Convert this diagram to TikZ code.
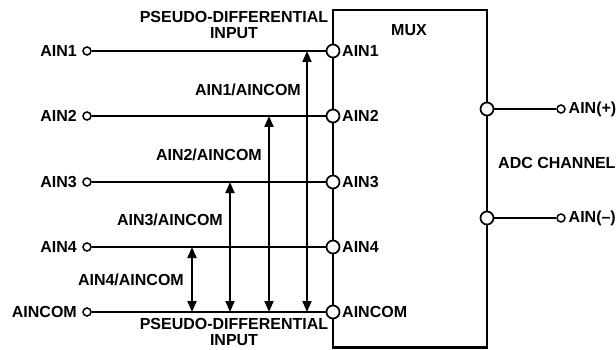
\documentclass[tikz,border=0pt]{standalone}
\usepackage{fontspec}
\setmainfont{Liberation Sans}
\usetikzlibrary{arrows.meta}
\begin{document}
\begin{tikzpicture}[x=1pt,y=-1pt,
  font=\fontsize{16}{16}\selectfont\bfseries,
  lbl/.style={inner sep=0pt},
  term/.style={circle,draw,line width=1.5pt,minimum size=8pt,inner sep=0pt,fill=white},
  pin/.style={circle,draw,line width=1.7pt,minimum size=13pt,inner sep=0pt,fill=white},
  wire/.style={line width=2.2pt},
  thin wire/.style={line width=1.4pt},
  dbl/.style={line width=1.9pt,{Triangle[length=11pt,width=9pt]}-{Triangle[length=11pt,width=9pt]}}]
\useasboundingbox (0,0) rectangle (616,350);
% MUX box
\draw[line width=2.2pt] (333,10) rectangle (487,347.5);
\node[lbl] (mux) at (409,30) {MUX};
% input rows
\foreach \n/\t/\y in {1/AIN1/51,2/AIN2/116,3/AIN3/182,4/AIN4/247,5/AINCOM/312}{
  \node[term] (t\n) at (87,\y) {};
  \node[lbl,anchor=east] (tl\n) at (77,\y) {\t};
  \node[pin] (p\n) at (333,\y) {};
  \node[lbl,anchor=west] (pl\n) at (342,\y) {\t};
  \draw[wire] (t\n) -- (p\n);
}
% pseudo-differential labels
\node[lbl,align=center] (pdtop) at (234,25) {PSEUDO-DIFFERENTIAL\\INPUT};
\node[lbl,align=center] (pdbot) at (234,332) {PSEUDO-DIFFERENTIAL\\INPUT};
% double arrows
\coordinate (a1t) at (307,51);  \coordinate (a1b) at (307,312);
\coordinate (a2t) at (269,116); \coordinate (a2b) at (269,312);
\coordinate (a3t) at (230,182); \coordinate (a3b) at (230,312);
\coordinate (a4t) at (192,247); \coordinate (a4b) at (192,312);
\draw[dbl] (a1b) -- (a1t);
\draw[dbl] (a2b) -- (a2t);
\draw[dbl] (a3b) -- (a3t);
\draw[dbl] (a4b) -- (a4t);
\node[lbl,anchor=east] (l1) at (301,90) {AIN1/AINCOM};
\node[lbl,anchor=east] (l2) at (262,155) {AIN2/AINCOM};
\node[lbl,anchor=east] (l3) at (223,220) {AIN3/AINCOM};
\node[lbl,anchor=east] (l4) at (184,280) {AIN4/AINCOM};
% ADC channel outputs
\node[pin] (op) at (487,109) {};
\node[term] (otp) at (561,109) {};
\draw[thin wire] (op) -- (otp);
\node[lbl,anchor=west] (olp) at (568.5,109) {AIN(+)};
\node[pin] (om) at (487,218) {};
\node[term] (otm) at (561,218) {};
\draw[thin wire] (om) -- (otm);
\node[lbl,anchor=west] (olm) at (568.5,218) {AIN(–)};
\node[lbl,anchor=west] (adc) at (498,163) {ADC CHANNEL};
\end{tikzpicture}
\end{document}
